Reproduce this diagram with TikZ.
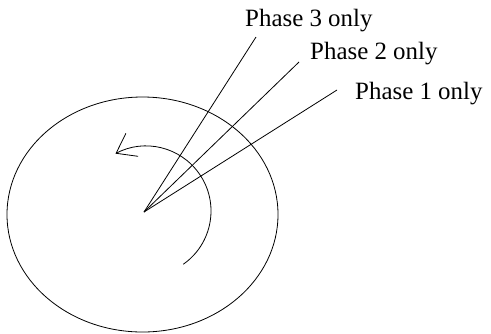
\documentclass[tikz,border=0pt]{standalone}
\usepackage{fontspec}
\setmainfont{Liberation Serif}
\usetikzlibrary{arrows.meta,positioning}

\begin{document}
\begin{tikzpicture}[
    x=1bp, y=-1bp,
    thin line/.style={draw, line width=0.8bp},
    label text/.style={anchor=base west, inner sep=0pt, font=\fontsize{25}{28}\selectfont},
    turn arrow/.style={thin line, -{Straight Barb[length=18bp, width=26bp, line width=0.8bp]}}
]
    \useasboundingbox (0,0) rectangle (491,333);
    \draw[thin line] (142.5,214.5) ellipse [x radius=135.5, y radius=117.5];
    \coordinate (hub) at (144,212);

    \node[label text] (phase3) at (245,26) {Phase 3 only};
    \node[label text] (phase2) at (310,59) {Phase 2 only};
    \node[label text] (phase1) at (355,99) {Phase 1 only};
    \coordinate (end3) at (256,37);
    \coordinate (end2) at (299,62);
    \coordinate (end1) at (337,90);

    \draw[thin line] (hub) -- (end3);
    \draw[thin line] (hub) -- (end2);
    \draw[thin line] (hub) -- (end1);

    % rotation direction
    \draw[turn arrow] (146,211) ++(55:65) arc[start angle=55, end angle=-118, radius=65];
\end{tikzpicture}
\end{document}
